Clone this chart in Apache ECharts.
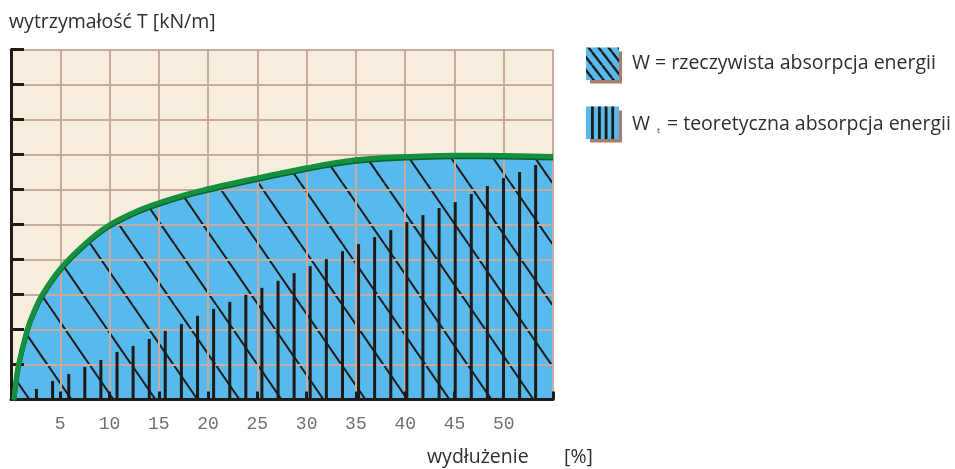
<!DOCTYPE html>
<html><head><meta charset="utf-8">
<script src="https://cdn.jsdelivr.net/npm/echarts@6/dist/echarts.min.js"></script>
<style>html,body{margin:0;padding:0;background:#fff}#c{width:955px;height:469px}</style>
</head><body><div id="c"></div>
<script>
// ---- data ----
const xTickLabels = [5, 10, 15, 20, 25, 30, 35, 40, 45, 50];
const curveX = [0.3, 0.45, 0.77, 1.65, 2.3, 3.17, 5, 7.5, 9.76, 12.5, 15, 17.5, 20, 22.5, 25, 27.5, 30, 32.5, 35, 37.5, 40, 45, 50, 55];
const curveY = [0, 0.4, 1.0, 2.0, 2.5, 3.0, 3.74, 4.45, 4.95, 5.35, 5.62, 5.84, 6.02, 6.18, 6.33, 6.48, 6.62, 6.75, 6.85, 6.91, 6.94, 6.98, 6.97, 6.94];
const barX = [2.58, 4.22, 5.86, 7.49, 9.12, 10.76, 12.39, 14.03, 15.65, 17.29, 18.93, 20.56, 22.2, 23.83, 25.46, 27.1,
              28.73, 30.36, 32.0, 33.64, 35.27, 36.9, 38.54, 40.17, 41.8, 43.44, 45.08, 46.71, 48.34, 49.98, 51.61, 53.24];
const barY = [0.30, 0.53, 0.73, 0.93, 1.13, 1.36, 1.53, 1.73, 1.96, 2.16, 2.39, 2.59, 2.79, 2.99, 3.19, 3.39,
              3.61, 3.81, 4.01, 4.24, 4.44, 4.64, 4.84, 5.07, 5.27, 5.47, 5.64, 5.87, 6.10, 6.33, 6.50, 6.70];
const legendW = 'W = rzeczywista absorpcja energii';
const legendWt = ' = teoretyczna absorpcja energii';
const yTitle = 'wytrzymałość T [kN/m]';
const xTitle = 'wydłużenie';
const xUnit = '[%]';

// ---- styles ----
const BLUE = '#58b9ec', INK = '#1d1a17', BEIGE = '#f6eddc', GRIDC = '#c7ab9f', GREEN = '#13913f';
const TXT = '#2e2e2e', FONT = '"Open Sans", "Noto Sans", sans-serif', FS = 19.5;

function hatchTile(w, h, off, lw) {
  const c = document.createElement('canvas'); c.width = w; c.height = h;
  const g = c.getContext('2d');
  g.fillStyle = BLUE; g.fillRect(0, 0, w, h);
  g.strokeStyle = INK; g.lineWidth = lw;
  for (let k = -3; k <= 3; k++) {
    g.beginPath(); g.moveTo(off + k * w, 0); g.lineTo(off + (k + 1) * w, h); g.stroke();
  }
  return c;
}
const areaPattern = { image: hatchTile(42, 61, 6.4, 2), repeat: 'repeat' };
const swatchPattern = { image: hatchTile(10, 13, 2, 2.4), repeat: 'repeat' };

const chart = echarts.init(document.getElementById('c'), null, { renderer: 'canvas' });

const stripes = [591, 598, 604.7, 611.3].map(x => ({
  type: 'rect', shape: { x: x, y: 106.5, width: 2.8, height: 32.5 }, style: { fill: INK }, z: 12
}));

chart.setOption({
  animation: false,
  backgroundColor: '#fff',
  grid: { left: 11, right: 402, top: 49.5, bottom: 69.5, show: true, backgroundColor: BEIGE, borderWidth: 0, z: 0 },
  xAxis: {
    type: 'value', min: 0, max: 55, interval: 5, z: 2,
    axisLine: { show: true, lineStyle: { color: INK, width: 3 } },
    axisTick: { show: true, inside: true, length: 8, lineStyle: { color: INK, width: 3 } },
    splitLine: { show: true, lineStyle: { color: GRIDC, width: 2 } },
    axisLabel: {
      margin: 16, color: '#707070', fontFamily: '"Liberation Mono", "DejaVu Sans Mono", monospace', fontSize: 18,
      formatter: v => (xTickLabels.indexOf(v) >= 0 ? String(v) : '')
    }
  },
  yAxis: {
    type: 'value', min: 0, max: 10, interval: 1, z: 2,
    axisLine: { show: true, lineStyle: { color: INK, width: 3 } },
    axisTick: { show: true, inside: true, length: 13, lineStyle: { color: INK, width: 3 } },
    splitLine: { show: true, lineStyle: { color: GRIDC, width: 2 } },
    axisLabel: { show: false }
  },
  series: [
    {
      type: 'line', z: 1, smooth: 0.4, symbol: 'none',
      data: curveX.map((x, i) => [x, curveY[i]]),
      lineStyle: { width: 0 },
      areaStyle: { color: areaPattern, opacity: 1 }
    },
    {
      type: 'bar', z: 3, barWidth: 3,
      data: barX.map((x, i) => [x, barY[i]]),
      itemStyle: { color: INK }
    },
    {
      type: 'line', z: 4, smooth: 0.4, symbol: 'none',
      data: curveX.map((x, i) => [x, curveY[i]]),
      lineStyle: { width: 5, color: GREEN, shadowColor: '#0a5f2c', shadowBlur: 0, shadowOffsetY: 1.5 }
    }
  ],
  graphic: [
    { type: 'text', style: { text: yTitle, x: 9, y: 22, fill: TXT, font: FS + 'px ' + FONT, verticalAlign: 'middle' } },
    { type: 'text', style: { text: xTitle, x: 427, y: 457, fill: TXT, font: FS + 'px ' + FONT, verticalAlign: 'middle' } },
    { type: 'text', style: { text: xUnit, x: 564, y: 457, fill: TXT, font: FS + 'px ' + FONT, verticalAlign: 'middle' } },
    // legend swatch 1
    { type: 'rect', shape: { x: 590, y: 51.5, width: 32, height: 32 }, style: { fill: '#a67e70' }, z: 10 },
    { type: 'rect', shape: { x: 586, y: 47.5, width: 33, height: 32.5 }, style: { fill: swatchPattern }, z: 11 },
    { type: 'text', style: { text: legendW, x: 632, y: 63, fill: TXT, font: FS + 'px ' + FONT, verticalAlign: 'middle' } },
    // legend swatch 2
    { type: 'rect', shape: { x: 590, y: 110.5, width: 32, height: 32 }, style: { fill: '#a67e70' }, z: 10 },
    { type: 'rect', shape: { x: 586, y: 106.5, width: 33, height: 32.5 }, style: { fill: BLUE }, z: 11 }
  ].concat(stripes).concat([
    {
      type: 'text',
      style: {
        x: 632, y: 124.5, verticalAlign: 'middle',
        text: '{a|W }{s|t}{a|' + legendWt + '}',
        rich: {
          a: { fontSize: FS, fontFamily: FONT, fill: TXT, color: TXT },
          s: { fontSize: 8, fontFamily: FONT, fill: TXT, color: TXT, verticalAlign: 'bottom', padding: [8, 2, 0, 2] }
        }
      }
    }
  ])
});
</script></body></html>
